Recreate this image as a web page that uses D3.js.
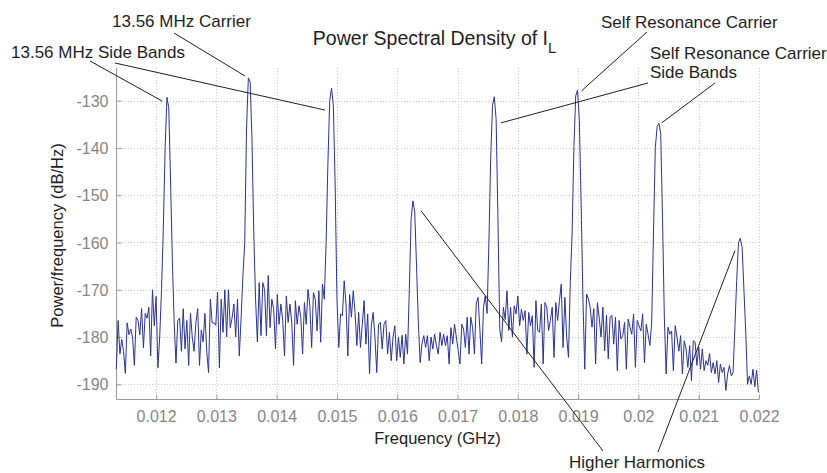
<!DOCTYPE html>
<meta charset="utf-8">
<style>
body { margin: 0; background: #fff; }
text { font-family: "Liberation Sans", Arial, Helvetica, sans-serif; }
.grid line { stroke: #c8c8c8; stroke-width: 1; stroke-dasharray: 1,2; }
.axis path, .axis line { stroke: #9a9a9a; }
.tick-label { fill: #858585; font-size: 16px; }
.note { fill: #1e1e1e; font-size: 17px; }
.pointer { stroke: #1e1e1e; stroke-width: 1; }
</style>
<svg width="827" height="473"></svg>
<script src="https://cdn.jsdelivr.net/npm/d3@7"></script>
<script>

// frequency bins (GHz)
var freqStart = 0.01134,
    freqStep = 0.00003;

// PSD of I_L (dB/Hz), one value per bin
var psd = [
  -186.8, -176.5, -183.6, -180.5, -183, -187.7, -177, -179.5, -178.3, -180,      // 0
  -186, -175.8, -176.5, -179.5, -174, -182.3, -175, -176, -173.7, -184,          // 10
  -170, -177.6, -171.4, -186.5, -180, -170, -157, -140, -129.3, -131.5,          // 20
  -147, -164, -177, -185.5, -176.5, -176, -183, -174, -182.5, -176.5,            // 30
  -186, -175, -180, -183, -177, -174, -186, -178.5, -181, -175,                  // 40
  -183, -187.5, -172, -177, -177, -177.5, -170.5, -186.5, -172, -179,            // 50
  -170, -180, -170, -178, -176, -173, -180, -172, -184, -176,                    // 60
  -167, -160, -136, -125.2, -126, -138, -158, -172, -181, -168.5,                // 70
  -179.7, -168.5, -170, -179.7, -167, -178, -172, -174, -182.5, -171,            // 80
  -177.3, -173, -176.5, -184, -171.3, -176.9, -173, -177, -186, -172.3,          // 90
  -177.3, -173.4, -175.8, -183.6, -172.7, -177.3, -169.9, -173.5, -182.2, -170.6, // 100
  -172, -178.7, -170.2, -181.1, -168.8, -172, -160, -143, -130, -127.4,          // 110
  -131, -148, -172, -182.2, -175.1, -175.5, -168.1, -173, -184, -171,            // 120
  -175.8, -170.2, -174.8, -181.8, -174.8, -182.2, -177.3, -172.3, -181.5, -175.1, // 130
  -187.8, -177.6, -174.8, -180, -187.5, -177.3, -176.9, -182.5, -177.3, -176.5,  // 140
  -183.6, -179, -185, -180, -177.6, -185, -180, -184.3, -179.6, -185.7,          // 150
  -179.4, -183.6, -170, -155, -151.2, -153.5, -165, -177, -185.4, -181.5,        // 160
  -179.7, -182.2, -179.7, -185, -180, -182.5, -179.4, -181.8, -183.6, -179,      // 170
  -181.8, -179.4, -181.8, -179.7, -185.7, -178, -181.5, -177.3, -180, -182.8,    // 180
  -185.7, -177.3, -178.3, -182.2, -175.8, -183.6, -175.8, -178, -183.6, -173,    // 190
  -171.6, -178.3, -185.7, -173.7, -171.3, -175, -160, -142, -131, -129.2,        // 200
  -134, -155, -178.3, -181, -173.7, -176.3, -170.2, -178.6, -173.7, -180,        // 210
  -173.4, -175.1, -171.3, -177.6, -174.1, -176.5, -174.4, -183.6, -174.8, -177.6, // 220
  -175.5, -186.4, -172.3, -178.6, -179, -173, -185.7, -172.7, -173.7, -178.6,    // 230
  -176.5, -173.7, -184.3, -172.7, -176.5, -172.3, -168.8, -182.2, -171.6, -180,  // 240
  -184.3, -168.5, -158, -140, -129, -127.8, -134, -152, -172, -186.8,            // 250
  -170.9, -171.9, -173.7, -177.9, -174, -185.7, -172.7, -176, -180, -173.7,      // 260
  -182.9, -175.4, -184.6, -175.8, -175.4, -181.5, -175.8, -187.1, -176.5, -180.4, // 270
  -179.7, -176.9, -186.8, -176.2, -177.9, -179.4, -175.1, -186.4, -176.5, -177.6, // 280
  -178.7, -175.1, -185.4, -177.3, -179.4, -181.8, -177, -158, -140, -135.5,      // 290
  -134.8, -137, -155, -176, -187.8, -177.9, -179.4, -178.7, -187.1, -177.6,      // 300
  -180, -183, -179.7, -187.8, -180.8, -182.5, -186.4, -181.8, -189.2, -180.8,    // 310
  -181.1, -186, -182.2, -186.8, -182.5, -187.1, -185, -186, -183.5, -187.5,      // 320
  -185.4, -187.8, -185, -189.6, -185.7, -187.5, -186.4, -191.3, -187.8, -186,    // 330
  -188.2, -187.5, -178, -168, -160, -159.1, -161, -170, -179, -190,              // 340
  -188.2, -190, -186.8, -190.5, -187, -191.7                                     // 350
];

var xTicks = [0.012, 0.013, 0.014, 0.015, 0.016, 0.017, 0.018, 0.019, 0.02, 0.021, 0.022];
var yTicks = [-190, -180, -170, -160, -150, -140, -130];

// callouts: label lines, where the text sits, and pointer targets in (GHz, dB)
var notes = [
  { text: ["13.56 MHz Carrier"], tx: 112, ty: 27,
    pointers: [{ from: [174, 33], to: [0.013475, -124.8] }] },
  { text: ["13.56 MHz Side Bands"], tx: 11, ty: 58,
    pointers: [{ from: [90, 61], to: [0.012103, -130.1] },
               { from: [115, 63], to: [0.014802, -132.0] }] },
  { text: ["Self Resonance Carrier"], tx: 601, ty: 28,
    pointers: [{ from: [647, 32], to: [0.019059, -127.9] }] },
  { text: ["Self Resonance Carrier", "Side Bands"], tx: 650, ty: 59,
    pointers: [{ from: [648, 83], to: [0.017721, -134.7] },
               { from: [715, 83], to: [0.020386, -134.7] }] },
  { text: ["Higher Harmonics"], tx: 569, ty: 468,
    pointers: [{ from: [603, 451], to: [0.016394, -153.3] },
               { from: [658, 452], to: [0.021602, -161.7] }] }
];

var svg = d3.select("svg"),
    margin = {left: 116, right: 68, top: 68, bottom: 74},
    width = +svg.attr("width"),
    height = +svg.attr("height");

var x = d3.scaleLinear()
    .domain([0.011335, 0.022])
    .range([margin.left, width - margin.right]);

var y = d3.scaleLinear()
    .domain([-193.1, -123.1])
    .range([height - margin.bottom, margin.top]);

var x0 = x.range()[0], x1 = x.range()[1],
    yb = y.range()[0], yt = y.range()[1];

// grid
var grid = svg.append("g").attr("class", "grid");
grid.selectAll(".gx")
    .data(xTicks)
    .enter().append("line")
    .attr("x1", function(d) { return Math.round(x(d)) + 0.5; })
    .attr("x2", function(d) { return Math.round(x(d)) + 0.5; })
    .attr("y1", yt).attr("y2", yb);
grid.selectAll(".gy")
    .data(yTicks)
    .enter().append("line")
    .attr("y1", function(d) { return Math.round(y(d)) + 0.5; })
    .attr("y2", function(d) { return Math.round(y(d)) + 0.5; })
    .attr("x1", x0).attr("x2", x1);

// axes (ticks point inward, MATLAB style)
var xAxis = d3.axisBottom(x)
    .tickValues(xTicks)
    .tickSizeInner(-5).tickSizeOuter(0)
    .tickFormat(function(d) { return String(+d.toFixed(3)); });
var yAxis = d3.axisLeft(y)
    .tickValues(yTicks)
    .tickSizeInner(-5).tickSizeOuter(0)
    .tickFormat(function(d) { return String(d); });

var gx = svg.append("g")
    .attr("class", "axis")
    .attr("transform", "translate(0," + (yb + 0.5) + ")")
    .call(xAxis);
gx.select(".domain").attr("d", "M" + (x0 + 0.5) + ",0H" + x1);
gx.selectAll("text")
    .attr("class", "tick-label")
    .attr("y", 22.5).attr("dy", 0)
    .attr("fill", null);

var gy = svg.append("g")
    .attr("class", "axis")
    .attr("transform", "translate(" + (x0 + 0.5) + ",0)")
    .call(yAxis);
gy.select(".domain").attr("d", "M0," + yt + "V" + (yb + 0.5));
gy.selectAll("text")
    .attr("class", "tick-label")
    .attr("x", -8).attr("dy", "0.35em")
    .attr("fill", null);

svg.selectAll(".axis").attr("font-family", null).attr("font-size", null);

// PSD trace
var line = d3.line()
    .x(function(d, i) { return x(freqStart + i * freqStep); })
    .y(function(d) { return y(d); });

svg.append("path")
    .datum(psd)
    .attr("fill", "none")
    .attr("stroke", "#2a3394")
    .attr("stroke-width", 1)
    .attr("d", line);

// axis titles
svg.append("text")
    .attr("x", (x0 + x1) / 2).attr("y", 444)
    .attr("text-anchor", "middle")
    .style("font-size", "16.5px").style("fill", "#1e1e1e")
    .text("Frequency (GHz)");

svg.append("text")
    .attr("transform", "translate(63," + ((yt + yb) / 2 + 2) + ") rotate(-90)")
    .attr("text-anchor", "middle")
    .style("font-size", "16.5px").style("fill", "#1e1e1e")
    .text("Power/frequency (dB/Hz)");

var title = svg.append("text")
    .attr("x", (x0 + x1) / 2 - 3).attr("y", 45)
    .attr("text-anchor", "middle")
    .style("font-size", "19.5px").style("fill", "#1e1e1e");
title.append("tspan").text("Power Spectral Density of I");
title.append("tspan").attr("dy", 8).style("font-size", "14.5px").text("L");

// callouts
notes.forEach(function(n) {
  n.pointers.forEach(function(p) {
    svg.append("line")
        .attr("class", "pointer")
        .attr("x1", p.from[0]).attr("y1", p.from[1])
        .attr("x2", x(p.to[0])).attr("y2", y(p.to[1]));
  });
  var t = svg.append("text").attr("class", "note");
  n.text.forEach(function(s, k) {
    t.append("tspan").attr("x", n.tx).attr("y", n.ty + k * 18.5).text(s);
  });
});

</script>
